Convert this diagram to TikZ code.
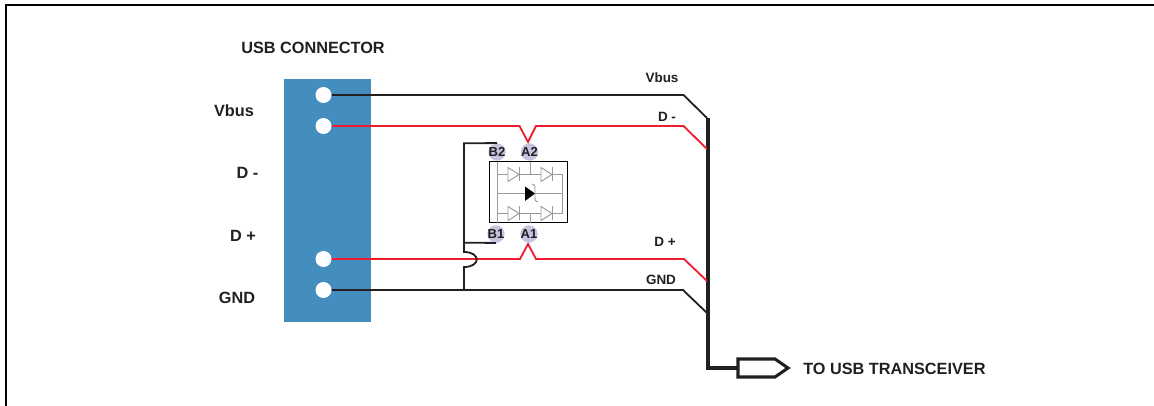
\documentclass[tikz,border=0pt]{standalone}
\usepackage{fontspec}
\setmainfont{Liberation Sans}
\definecolor{ink}{HTML}{231F20}
\definecolor{wirered}{HTML}{ED1C2E}
\definecolor{usbblue}{HTML}{438DBF}
\definecolor{pinlav}{HTML}{C6C4E0}
\definecolor{cgray}{HTML}{9A9A9A}
\tikzset{
  biglabel/.style={font=\fontsize{12.2pt}{14pt}\selectfont\bfseries,text=ink,inner sep=0pt},
  smalllabel/.style={font=\fontsize{10.1pt}{12pt}\selectfont\bfseries,text=ink,inner sep=0pt},
  pindisc/.style={circle,fill=pinlav,minimum size=13pt,inner sep=0pt},
  pintext/.style={font=\fontsize{9.8pt}{11pt}\selectfont\bfseries,text=ink,inner sep=0pt},
  hole/.style={circle,fill=white,minimum size=12pt,inner sep=0pt},
  blackwire/.style={draw=ink,line width=1.35pt,line join=miter},
  redwire/.style={draw=wirered,line width=1.35pt,line join=miter},
  buswire/.style={draw=ink,line width=3pt,line join=miter},
  cline/.style={draw=cgray,line width=0.7pt},
  diodesym/.style={draw=cgray,line width=0.7pt,fill=white}
}
\newcommand{\dio}[2]{%
  \draw[diodesym] (#1,#2-7) -- (#1+11,#2) -- (#1,#2+7) -- cycle;
  \draw[cline] (#1+11,#2-7) -- (#1+11,#2+7);}
\begin{document}
\begin{tikzpicture}[x=0.75pt,y=-0.75pt]
\useasboundingbox (0,0) rectangle (1154,406);
\draw[black,line width=1.5pt] (6,406) -- (6,5) -- (1154,5);
% connector block
\node[fill=usbblue,inner sep=0pt,minimum width=65.25pt,minimum height=182.25pt] (usb) at (327.5,200.5) {};
\node[hole] (pa) at (323.5,95) {};
\node[hole] (pb) at (323.5,126) {};
\node[hole] (pc) at (323.5,259) {};
\node[hole] (pd) at (323.5,290) {};
% labels
\node[biglabel] (title) at (313,47.5) {USB CONNECTOR};
\node[biglabel] (l1) at (234,110.5) {Vbus};
\node[biglabel] (l2) at (247.5,173) {D -};
\node[biglabel] (l3) at (243,235.5) {D +};
\node[biglabel] (l4) at (237,297.5) {GND};
\node[smalllabel] (s1) at (662,77.5) {Vbus};
\node[smalllabel] (s2) at (667,116.5) {D -};
\node[smalllabel] (s3) at (665,241.5) {D +};
\node[smalllabel] (s4) at (661,279.5) {GND};
\node[biglabel,anchor=west] (xcv) at (803,368.5) {TO USB TRANSCEIVER};
% protection device
\node[draw=black,fill=white,line width=0.75pt,inner sep=0pt,minimum width=58.5pt,minimum height=45.75pt] (chip) at (528,192.5) {};
\draw[cline] (497,162) -- (497,223);
\draw[cline] (497,174.5) -- (562,174.5) -- (562,213.5) -- (497,213.5);
\draw[cline] (497,193) -- (562,193);
\draw[cline] (530,162) -- (530,174.5);
\draw[cline] (530,213.5) -- (530,223);
\dio{508}{174.5}\dio{541}{174.5}\dio{508}{213.5}\dio{541}{213.5}
\fill[black] (525,186.5) -- (535,193.5) -- (525,201) -- cycle;
\draw[cgray,line width=0.7pt] (532,184) .. controls (535,185) .. (535,188) -- (535,198) .. controls (535,201) .. (538,202);
% pins
\node[pindisc] (b2) at (497,152) {};
\node[pindisc] (a2) at (529.5,152) {};
\node[pindisc] (b1) at (496,234) {};
\node[pindisc] (a1) at (529,234) {};
\node[pintext] at (b2) {B2};
\node[pintext] at (a2) {A2};
\node[pintext] at (b1) {B1};
\node[pintext] at (a1) {A1};
% bends
\coordinate (v1) at (683.5,95);
\coordinate (v2) at (707,118);
\coordinate (m1) at (519.5,126);
\coordinate (m2) at (528,142);
\coordinate (m3) at (536,126);
\coordinate (m4) at (683.5,126);
\coordinate (m5) at (707,149);
\coordinate (q1) at (520,259);
\coordinate (q2) at (528,244);
\coordinate (q3) at (536,259);
\coordinate (q4) at (684,259);
\coordinate (q5) at (707,281);
\coordinate (g1) at (683,290);
\coordinate (g2) at (707,313);
\coordinate (j0) at (464,143.3);
\coordinate (j1) at (464,242.7);
\coordinate (j2) at (464,252);
\coordinate (j3) at (464,267);
\coordinate (j4) at (464,290);
\coordinate (e0) at (707.5,368);
\coordinate (bt) at (707.5,118);
% bus and output
\node[inner sep=0pt,minimum size=0pt] (out) at (738,368) {};
\draw[buswire] (bt) -- (e0) -- (out.center);
\draw[draw=ink,line width=2.3pt,fill=white,line join=miter] (out.center) ++(0,-9) -- ++(37,0) -- ++(13,9) -- ++(-13,9) -- ++(-37,0) -- cycle;
% wires
\draw[blackwire] (pa) -- (v1) -- (v2);
\draw[blackwire] (pd) -- (g1) -- (g2);
\draw[redwire] (pb) -- (m1) -- (m2) -- (m3) -- (m4) -- (m5);
\draw[redwire] (pc) -- (q1) -- (q2) -- (q3) -- (q4) -- (q5);
\draw[blackwire] (b2.north) -- (j0) -- (j2) .. controls (481,252) and (481,267) .. (j3) -- (j4);
\draw[blackwire] (j1) -- (b1.south);
\end{tikzpicture}
\end{document}
